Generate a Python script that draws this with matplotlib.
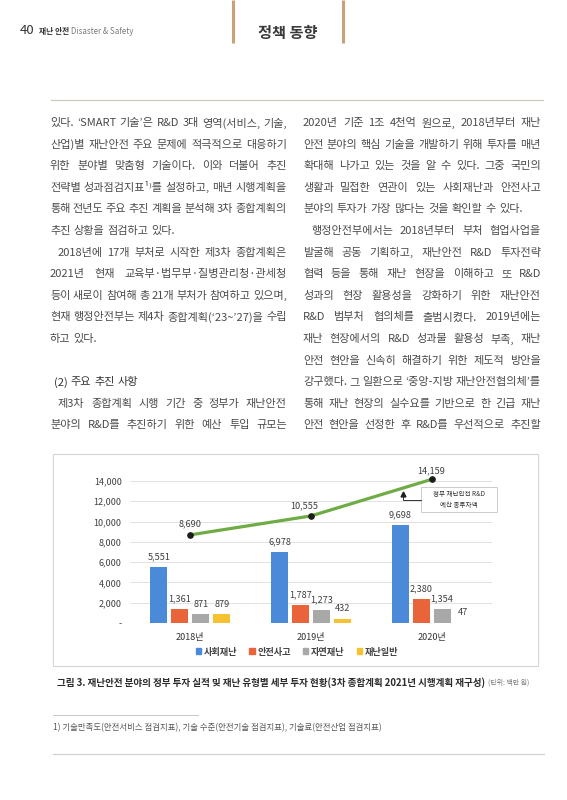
import matplotlib
matplotlib.use("Agg")
import matplotlib.pyplot as plt
from matplotlib.patches import Rectangle, Patch
import numpy as np

plt.rcParams['font.family'] = ['Noto Sans CJK KR', 'DejaVu Sans']

# chart data (백만 원)
years = ['2018년', '2019년', '2020년']
categories = ['사회재난', '안전사고', '자연재난', '재난일반']
social = [5551, 6978, 9698]
safety = [1361, 1787, 2380]
natural = [871, 1273, 1354]
general = [879, 432, 47]
total = [8690, 10555, 14159]
yticks = [0, 2000, 4000, 6000, 8000, 10000, 12000, 14000]
ytick_labels = ['-', '2,000', '4,000', '6,000', '8,000', '10,000', '12,000', '14,000']

# page text
left_lines = [
    "있다. ‘SMART 기술’은 R&D 3대 영역(서비스, 기술,",
    "산업)별 재난안전 주요 문제에 적극적으로 대응하기",
    "위한 분야별 맞춤형 기술이다. 이와 더불어 추진",
    "전략별 성과점검지표¹⁾를 설정하고, 매년 시행계획을",
    "통해 전년도 주요 추진 계획을 분석해 3차 종합계획의",
    "추진 상황을 점검하고 있다.",
    "2018년에 17개 부처로 시작한 제3차 종합계획은",
    "2021년 현재 교육부·법무부·질병관리청·관세청",
    "등이 새로이 참여해 총 21개 부처가 참여하고 있으며,",
    "현재 행정안전부는 제4차 종합계획(‘23~’27)을 수립",
    "하고 있다.",
    "",
    "(2) 주요 추진 사항",
    "제3차 종합계획 시행 기간 중 정부가 재난안전",
    "분야의 R&D를 추진하기 위한 예산 투입 규모는",
]
right_lines = [
    "2020년 기준 1조 4천억 원으로, 2018년부터 재난",
    "안전 분야의 핵심 기술을 개발하기 위해 투자를 매년",
    "확대해 나가고 있는 것을 알 수 있다. 그중 국민의",
    "생활과 밀접한 연관이 있는 사회재난과 안전사고",
    "분야의 투자가 가장 많다는 것을 확인할 수 있다.",
    "행정안전부에서는 2018년부터 부처 협업사업을",
    "발굴해 공동 기획하고, 재난안전 R&D 투자전략",
    "협력 등을 통해 재난 현장을 이해하고 또 R&D",
    "성과의 현장 활용성을 강화하기 위한 재난안전",
    "R&D 범부처 협의체를 출범시켰다. 2019년에는",
    "재난 현장에서의 R&D 성과물 활용성 부족, 재난",
    "안전 현안을 신속히 해결하기 위한 제도적 방안을",
    "강구했다. 그 일환으로 ‘중앙-지방 재난안전협의체’를",
    "통해 재난 현장의 실수요를 기반으로 한 긴급 재난",
    "안전 현안을 선정한 후 R&D를 우선적으로 추진할",
]
left_indent = [6, 13]
left_ragged = [5, 10, 12]
right_indent = [5]
right_ragged = [4]
caption = "그림 3. 재난안전 분야의 정부 투자 실적 및 재난 유형별 세부 투자 현황(3차 종합계획 2021년 시행계획 재구성)"
unit = "(단위: 백만 원)"
footnote = "1) 기술만족도(안전서비스 점검지표), 기술 수준(안전기술 점검지표), 기술료(안전산업 점검지표)"

BODY = 8.0

fig = plt.figure(figsize=(5.67, 8.0), dpi=100)
pg = fig.add_axes([0, 0, 1, 1])
pg.set_xlim(0, 567)
pg.set_ylim(800, 0)
pg.axis('off')
renderer = fig.canvas.get_renderer()


def width_of(t):
    return t.get_window_extent(renderer).width


def put_line(x0, x1, y, s, justify, size=BODY, color='#4a4a4a', weight='normal'):
    words = s.split(' ')
    texts = [pg.text(0, y, w, fontsize=size, color=color, weight=weight,
                     va='center', ha='left') for w in words]
    widths = [width_of(t) for t in texts]
    normal_gap = size * 100 / 72 * 0.28
    if justify and len(words) > 1:
        gap = max((x1 - x0 - sum(widths)) / (len(words) - 1), normal_gap * 0.4)
    else:
        gap = normal_gap
    x = x0
    for t, w in zip(texts, widths):
        t.set_x(x)
        x += w + gap


def put_column(lines, x0, x1, indents, ragged, y0=123, step=21.6):
    for i, s in enumerate(lines):
        if not s:
            continue
        xs = x0 + (8 if i in indents else 0)
        if s.startswith('(2)'):
            put_line(xs + 4, x1, y0 + i * step, s, False, color='#333333')
        else:
            put_line(xs, x1, y0 + i * step, s, i not in ragged)


put_column(left_lines, 50, 287, left_indent, left_ragged)
put_column(right_lines, 303, 541, right_indent, right_ragged)

# header
t40 = pg.text(20, 31, "40", fontsize=9.5, color='#333333', va='center')
x = 20 + width_of(t40) + 4
tk = pg.text(x, 31.5, "재난 안전", fontsize=5.6, weight='bold', color='#333333', va='center')
x += width_of(tk) + 2
pg.text(x, 31.5, "Disaster & Safety", fontsize=5.7, color='#7a7a7a', va='center')
for vx in (233, 343):
    pg.plot([vx, vx], [0, 43], color='#c9a27a', lw=2.2, solid_capstyle='butt')
pg.text(288, 33, "정책 동향", fontsize=11, weight='bold', color='#3a3a3a', ha='center', va='center')
pg.plot([51, 543], [100, 100], color='#cfc8c0', lw=0.9)

# chart frame
pg.add_patch(Rectangle((53, 454), 485, 212, fill=False, ec='#d6d6d6', lw=0.8))

ax = fig.add_axes([130 / 567, (800 - 623) / 800, 362 / 567, 162.3 / 800])
ax.patch.set_alpha(0)
ax.set_xlim(-0.5, 2.5)
ax.set_ylim(0, 16000)
for sp in ax.spines.values():
    sp.set_visible(False)
ax.set_yticks(yticks)
ax.set_yticklabels(ytick_labels)
ax.grid(axis='y', color='#dcdcdc', lw=0.6)
ax.set_axisbelow(True)
ax.tick_params(axis='y', length=0, pad=6, labelsize=6.5, labelcolor='#404040')
ax.set_xticks(range(len(years)))
ax.set_xticklabels(years)
ax.tick_params(axis='x', length=0, pad=7, labelsize=6.5, labelcolor='#333333')

colors = ['#4b8ad9', '#e9643b', '#a8a8a8', '#f6c232']
series = [social, safety, natural, general]
xpos = np.arange(len(years))
bw = 0.142
step = 0.174
for k, (vals, c) in enumerate(zip(series, colors)):
    xs = xpos + (k - 1.5) * step
    ax.bar(xs, vals, width=bw, color=c, zorder=2)
    for xi, v in zip(xs, vals):
        ax.annotate(f"{v:,}", (xi, v), xytext=(0, 4), textcoords='offset points',
                    ha='center', va='bottom', fontsize=6.6, color='#404040')

ax.plot(xpos, total, color='#6fac45', lw=2.3, zorder=3,
        marker='o', markersize=3.8, mfc='#1c1c1c', mec='#1c1c1c')
label_dx = [0, -5, 0]
label_dy = [5, 4, 3]
for xi, v, dx, dy in zip(xpos, total, label_dx, label_dy):
    ax.annotate(f"{v:,}", (xi, v), xytext=(dx, dy), textcoords='offset points',
                ha='center', va='bottom', fontsize=6.6, color='#404040')

# overlay for the callout, above the chart
ov = fig.add_axes([0, 0, 1, 1])
ov.set_xlim(0, 567)
ov.set_ylim(800, 0)
ov.axis('off')
ov.add_patch(Rectangle((421, 487), 76, 25, fc='white', ec='#c4c4c4', lw=0.6))
ov.text(459, 499.5, "정부 재난안전 R&D\n예산 총투자액", fontsize=4.7, color='#333333',
        ha='center', va='center', linespacing=1.5)
ov.plot([421, 403, 403], [500, 500, 495], color='#333333', lw=0.7)
ov.plot([403], [493.5], marker='^', markersize=3.5, color='#222222')

# legend
handles = [Patch(color=c) for c in colors]
leg = fig.legend(handles, categories, loc='center', bbox_to_anchor=(297 / 567, 1 - 652 / 800),
                 ncol=4, frameon=False, handlelength=0.6, handleheight=0.6,
                 handletextpad=0.3, columnspacing=1.3, prop={'size': 6.6, 'weight': 'bold'})
for t in leg.get_texts():
    t.set_color('#444444')

# caption and footnote
tc = pg.text(57, 683, caption, fontsize=6.9, weight='bold', color='#2b2b2b', va='center')
pg.text(57 + width_of(tc) + 3, 683, unit, fontsize=5.0, color='#777777', va='center')
pg.plot([53, 198], [715, 715], color='#bdbdbd', lw=0.6)
pg.text(53, 728, footnote, fontsize=6.05, color='#555555', va='center')
pg.plot([53, 544], [754, 754], color='#cfcfcf', lw=0.8)

fig.savefig("out.png", dpi=100)
